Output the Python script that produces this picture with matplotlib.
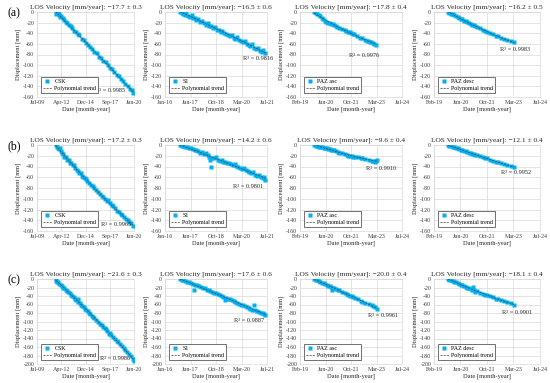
import matplotlib
matplotlib.use("Agg")
import matplotlib.pyplot as plt
import matplotlib.dates as mdates
import numpy as np
import pandas as pd

plt.rcParams['font.family'] = ['Liberation Serif', 'DejaVu Serif']
plt.rcParams['axes.unicode_minus'] = False

# ---------------- dados (ano decimal, deslocamento em mm) ----------------
# linha (a)
csk_a_x = [2011.62, 2011.70, 2011.85, 2011.95, 2012.05, 2012.10, 2012.25, 2012.40, 2012.55, 2012.75, 2012.95,
           2013.10, 2013.30, 2013.50, 2013.70, 2013.90, 2014.10, 2014.30, 2014.55, 2014.80, 2015.00, 2015.25,
           2015.50, 2015.75, 2016.00, 2016.25, 2016.50, 2016.75, 2017.00, 2017.25, 2017.50, 2017.75, 2018.00,
           2018.25, 2018.50, 2018.75, 2019.00, 2019.25, 2019.50, 2019.75, 2020.00, 2020.20, 2020.40]
csk_a_y = [0, -3, -2, -6, -4, -9, -8, -12, -15, -18, -20, -25, -27, -30, -36, -38, -42, -44, -50, -52, -58, -62,
           -66, -70, -75, -78, -84, -87, -92, -95, -100, -105, -108, -112, -118, -120, -126, -129, -136, -139,
           -144, -147, -152]
s1_a_x = [2016.85, 2016.95, 2017.05, 2017.15, 2017.20, 2017.30, 2017.40, 2017.50, 2017.55, 2017.65, 2017.75,
          2017.85, 2017.95, 2018.05, 2018.15, 2018.25, 2018.35, 2018.45, 2018.55, 2018.65, 2018.75, 2018.85,
          2018.95, 2019.05, 2019.15, 2019.25, 2019.35, 2019.45, 2019.55, 2019.65, 2019.75, 2019.85, 2019.95,
          2020.05, 2020.15, 2020.25, 2020.35, 2020.45, 2020.55, 2020.65, 2020.75, 2020.85, 2020.95, 2021.05,
          2021.15, 2021.25, 2021.35, 2021.45]
s1_a_y = [0, -2, -3, -6, -1, -7, -9, -5, -11, -12, -15, -13, -18, -17, -21, -24, -20, -26, -27, -31, -28, -33,
          -34, -37, -35, -40, -41, -43, -45, -44, -48, -50, -47, -53, -55, -57, -54, -60, -62, -64, -61, -67,
          -70, -68, -73, -75, -72, -78]
pazasc_a_x = [2019.85, 2019.93, 2020.00, 2020.08, 2020.17, 2020.25, 2020.33, 2020.42, 2020.50, 2020.58, 2020.67,
              2020.75, 2020.83, 2020.92, 2021.00, 2021.08, 2021.17, 2021.33, 2021.50, 2021.58, 2021.67, 2021.75,
              2021.83, 2021.92, 2022.00, 2022.17, 2022.33, 2022.42, 2022.58, 2022.67, 2022.75, 2022.83, 2022.92,
              2023.00, 2023.08, 2023.17]
pazasc_a_y = [0, -2, -4, -6, -8, -11, -14, -17, -19, -20, -21, -22, -23, -25, -26, -28, -30, -32, -34, -36, -37,
              -38, -39, -41, -42, -45, -48, -49, -52, -54, -55, -56, -57, -58, -60, -63]
pazdesc_a_x = [2019.80, 2019.88, 2019.97, 2020.05, 2020.13, 2020.22, 2020.30, 2020.38, 2020.47, 2020.55, 2020.63,
               2020.72, 2020.80, 2020.88, 2020.97, 2021.05, 2021.13, 2021.22, 2021.30, 2021.47, 2021.63, 2021.72,
               2021.80, 2021.97, 2022.13, 2022.30, 2022.38, 2022.55, 2022.72, 2022.88, 2023.05, 2023.22]
pazdesc_a_y = [0, -1, -3, -4, -6, -8, -9, -11, -13, -14, -16, -17, -19, -21, -22, -24, -25, -27, -29, -31, -34,
               -35, -37, -39, -42, -45, -46, -49, -51, -53, -55, -57]

# linha (b)
csk_b_x = [2011.62, 2011.72, 2011.85, 2011.98, 2012.10, 2012.20, 2012.35, 2012.50, 2012.62, 2012.80, 2012.95,
           2013.10, 2013.25, 2013.40, 2013.55, 2013.70, 2013.85, 2014.00, 2014.15, 2014.30, 2014.45, 2014.60,
           2014.75, 2014.90, 2015.05, 2015.20, 2015.40, 2015.60, 2015.80, 2016.00, 2016.20, 2016.40, 2016.60,
           2016.80, 2017.00, 2017.20, 2017.40, 2017.55, 2017.75, 2017.95, 2018.15, 2018.35, 2018.55, 2018.75,
           2018.95, 2019.15, 2019.35, 2019.55, 2019.75, 2019.95, 2020.15, 2020.35]
csk_b_y = [0, -3, -5, -8, -6, -12, -14, -17, -22, -23, -27, -28, -33, -34, -38, -37, -43, -46, -48, -53, -52,
           -58, -60, -62, -64, -67, -70, -74, -77, -80, -84, -87, -92, -94, -97, -100, -104, -103, -108, -112,
           -114, -118, -122, -124, -128, -131, -134, -138, -140, -144, -146, -150]
s1_b_x = [2016.85, 2016.95, 2017.05, 2017.15, 2017.25, 2017.35, 2017.45, 2017.55, 2017.65, 2017.75, 2017.85,
          2017.95, 2018.05, 2018.15, 2018.25, 2018.35, 2018.45, 2018.50, 2018.55, 2018.60, 2018.70, 2018.80,
          2018.90, 2019.00, 2019.10, 2019.20, 2019.30, 2019.40, 2019.50, 2019.60, 2019.70, 2019.80, 2019.90,
          2020.00, 2020.10, 2020.20, 2020.30, 2020.40, 2020.50, 2020.60, 2020.70, 2020.80, 2020.90, 2021.00,
          2021.10, 2021.20, 2021.30, 2021.40, 2021.45]
s1_b_y = [0, -2, -1, -4, -3, -6, -5, -8, -10, -9, -12, -14, -13, -16, -15, -19, -22, -27, -40, -24, -25, -23,
          -28, -29, -27, -31, -32, -34, -33, -36, -37, -35, -39, -41, -42, -44, -43, -46, -48, -50, -52, -51,
          -55, -57, -56, -60, -62, -60, -65]
pazasc_b_x = [2019.85, 2019.93, 2020.02, 2020.10, 2020.18, 2020.27, 2020.35, 2020.43, 2020.52, 2020.60, 2020.68,
              2020.77, 2020.85, 2020.93, 2021.02, 2021.10, 2021.18, 2021.35, 2021.52, 2021.60, 2021.68, 2021.77,
              2021.85, 2021.93, 2022.02, 2022.18, 2022.35, 2022.43, 2022.60, 2022.77, 2022.93, 2023.02, 2023.10,
              2023.18, 2023.22]
pazasc_b_y = [0, -1, -2, -3, -3, -4, -5, -6, -6, -7, -8, -9, -9, -10, -12, -13, -14, -15, -17, -19, -20, -20,
              -21, -22, -22, -23, -24, -25, -26, -27, -29, -30, -31, -30, -27]
pazdesc_b_x = [2019.80, 2019.88, 2019.97, 2020.05, 2020.13, 2020.22, 2020.30, 2020.38, 2020.47, 2020.55, 2020.63,
               2020.72, 2020.80, 2020.88, 2020.97, 2021.05, 2021.13, 2021.22, 2021.30, 2021.47, 2021.63, 2021.72,
               2021.80, 2021.97, 2022.13, 2022.30, 2022.38, 2022.55, 2022.72, 2022.88, 2023.05, 2023.22]
pazdesc_b_y = [0, -1, -2, -3, -4, -5, -6, -8, -9, -10, -11, -12, -13, -14, -15, -16, -17, -18, -19, -21, -23,
               -24, -25, -27, -29, -32, -31, -34, -36, -37, -39, -41]

# linha (c)
csk_c_x = [2011.62, 2011.70, 2011.80, 2011.92, 2012.05, 2012.18, 2012.30, 2012.45, 2012.60, 2012.75, 2012.90,
           2013.05, 2013.20, 2013.35, 2013.50, 2013.65, 2013.80, 2013.95, 2014.10, 2014.20, 2014.35, 2014.50,
           2014.65, 2014.80, 2014.95, 2015.10, 2015.25, 2015.40, 2015.55, 2015.70, 2015.85, 2016.00, 2016.20,
           2016.40, 2016.60, 2016.80, 2017.00, 2017.15, 2017.30, 2017.45, 2017.60, 2017.75, 2017.90, 2018.10,
           2018.30, 2018.50, 2018.70, 2018.90, 2019.10, 2019.30, 2019.50, 2019.70, 2019.90, 2020.10, 2020.30,
           2020.45]
csk_c_y = [0, -4, -6, -8, -12, -14, -17, -20, -22, -25, -28, -31, -34, -37, -40, -42, -46, -50, -47, -54, -57,
           -60, -63, -66, -70, -73, -76, -80, -82, -86, -89, -92, -96, -100, -105, -108, -112, -116, -118, -122,
           -130, -128, -132, -136, -141, -145, -149, -154, -158, -162, -167, -171, -176, -182, -188, -193]
s1_c_x = [2016.85, 2016.95, 2017.05, 2017.15, 2017.25, 2017.35, 2017.45, 2017.55, 2017.62, 2017.70, 2017.80,
          2017.90, 2018.00, 2018.10, 2018.20, 2018.30, 2018.40, 2018.50, 2018.60, 2018.70, 2018.80, 2018.90,
          2019.00, 2019.10, 2019.20, 2019.30, 2019.35, 2019.45, 2019.55, 2019.65, 2019.75, 2019.85, 2019.95,
          2020.05, 2020.15, 2020.25, 2020.35, 2020.45, 2020.55, 2020.65, 2020.75, 2020.85, 2020.90, 2021.00,
          2021.10, 2021.20, 2021.30, 2021.40, 2021.45]
s1_c_y = [0, -2, -3, -4, -6, -8, -9, -12, -25, -13, -15, -17, -19, -20, -22, -25, -26, -28, -30, -33, -34, -36,
          -38, -40, -42, -50, -44, -46, -48, -50, -52, -53, -56, -58, -60, -62, -63, -66, -68, -70, -72, -62,
          -74, -75, -78, -79, -81, -83, -85]
pazasc_c_x = [2019.85, 2019.93, 2020.02, 2020.10, 2020.18, 2020.27, 2020.35, 2020.43, 2020.52, 2020.60, 2020.68,
              2020.77, 2020.80, 2020.85, 2020.93, 2021.02, 2021.10, 2021.18, 2021.35, 2021.52, 2021.60, 2021.68,
              2021.77, 2021.85, 2021.93, 2022.02, 2022.18, 2022.35, 2022.43, 2022.60, 2022.77, 2022.93, 2023.02,
              2023.10, 2023.20]
pazasc_c_y = [0, -2, -3, -5, -7, -9, -10, -12, -14, -16, -17, -19, -25, -20, -22, -24, -25, -27, -30, -33, -35,
              -37, -39, -40, -42, -44, -47, -51, -53, -56, -59, -62, -64, -67, -70]
pazdesc_c_x = [2019.80, 2019.88, 2019.97, 2020.05, 2020.13, 2020.22, 2020.30, 2020.38, 2020.47, 2020.55, 2020.63,
               2020.72, 2020.80, 2020.88, 2020.97, 2021.05, 2021.10, 2021.13, 2021.22, 2021.30, 2021.47, 2021.63,
               2021.72, 2021.80, 2021.97, 2022.13, 2022.30, 2022.38, 2022.55, 2022.72, 2022.88, 2023.05, 2023.22]
pazdesc_c_y = [0, -2, -3, -5, -6, -8, -10, -11, -13, -15, -16, -18, -20, -21, -23, -25, -18, -26, -30, -28, -32,
               -36, -37, -38, -40, -43, -46, -47, -50, -52, -55, -57, -60]

# textos
rotulos_linhas = ['(a)', '(b)', '(c)']
sensores = ['CSK', 'S1', 'PAZ asc', 'PAZ desc']
velocidades = [['−17.7 ± 0.3', '−16.5 ± 0.6', '−17.8 ± 0.4', '−16.2 ± 0.5'],
               ['−17.2 ± 0.3', '−14.2 ± 0.6', '−9.6 ± 0.4', '−12.1 ± 0.4'],
               ['−21.6 ± 0.3', '−17.6 ± 0.6', '−20.0 ± 0.4', '−18.1 ± 0.4']]
r2 = [['0.9985', '0.9816', '0.9976', '0.9983'],
      ['0.9965', '0.9801', '0.9910', '0.9952'],
      ['0.9986', '0.9887', '0.9961', '0.9901']]
y_minimos = [-160, -160, -200]

dados = [[(csk_a_x, csk_a_y), (s1_a_x, s1_a_y), (pazasc_a_x, pazasc_a_y), (pazdesc_a_x, pazdesc_a_y)],
         [(csk_b_x, csk_b_y), (s1_b_x, s1_b_y), (pazasc_b_x, pazasc_b_y), (pazdesc_b_x, pazdesc_b_y)],
         [(csk_c_x, csk_c_y), (s1_c_x, s1_c_y), (pazasc_c_x, pazasc_c_y), (pazdesc_c_x, pazdesc_c_y)]]

# eixo x estilo Excel: início + passo em dias
inicio_eixo = ['2009-07-08', '2016-01-25', '2019-02-01', '2019-02-01']
passo_dias = [1000, 500, 500, 500]

# ---------------- layout (pixels) ----------------
larg_fig, alt_fig = 550, 383
esquerdas = [37, 165, 300, 434]
larguras = [97, 102, 102, 106]
topos = [12, 145, 279]
alturas = [85, 86, 85]
pos_r2 = [[(0.60, 0.08), (0.76, 0.45), (0.48, 0.49), (0.62, 0.56)],
          [(0.66, 0.08), (0.67, 0.52), (0.65, 0.73), (0.63, 0.68)],
          [(0.65, 0.06), (0.68, 0.51), (0.67, 0.57), (0.64, 0.61)]]

cor_pontos = '#00b0f0'
cor_grade = '#d9d9d9'


def ano_para_data(anos):
    anos = np.asarray(anos, dtype=float)
    inteiros = np.floor(anos).astype(int)
    datas = []
    for a, i in zip(anos, inteiros):
        base = pd.Timestamp(year=int(i), month=1, day=1)
        dias_ano = 366 if pd.Timestamp(year=int(i), month=12, day=31).dayofyear == 366 else 365
        datas.append(base + pd.Timedelta(days=(a - i) * dias_ano))
    return pd.to_datetime(datas)


fig = plt.figure(figsize=(larg_fig / 100, alt_fig / 100), dpi=100)

for lin in range(3):
    for col in range(4):
        x_anos, y = dados[lin][col]
        ax = fig.add_axes([esquerdas[col] / larg_fig,
                           1 - (topos[lin] + alturas[lin]) / alt_fig,
                           larguras[col] / larg_fig,
                           alturas[lin] / alt_fig])
        datas = ano_para_data(x_anos)
        ax.plot(datas, y, 's', ms=2.2, color=cor_pontos, mec='none', label=sensores[col], zorder=3)

        # tendência polinomial (2º grau)
        t = np.array(x_anos)
        coef = np.polyfit(t, y, 2)
        t_fino = np.linspace(t.min(), t.max(), 100)
        ax.plot(ano_para_data(t_fino), np.polyval(coef, t_fino), color='#404040', lw=0.5,
                ls=(0, (3, 1.5)), label='Polynomial trend', zorder=4)

        inicio = pd.Timestamp(inicio_eixo[col])
        ticks = [inicio + pd.Timedelta(days=k * passo_dias[col]) for k in range(5)]
        ax.set_xlim(ticks[0], ticks[-1])
        ax.set_xticks(ticks)
        ax.xaxis.set_major_formatter(mdates.DateFormatter('%b-%y'))

        ax.set_ylim(y_minimos[lin], 0)
        yt = np.arange(y_minimos[lin], 1, 20)
        ax.set_yticks(yt)
        ax.set_yticklabels([str(int(v)) for v in yt])

        ax.grid(True, color=cor_grade, lw=0.5)
        ax.set_axisbelow(True)
        for s in ax.spines.values():
            s.set_color(cor_grade)
            s.set_linewidth(0.5)
        ax.tick_params(length=0, labelsize=4.3, colors='#404040', pad=2)

        ax.set_xlabel('Date [month-year]', fontsize=4.6, labelpad=1.5, color='#262626')
        ax.set_ylabel('Displacement [mm]', fontsize=4.6, labelpad=1.5, color='#262626')
        ax.set_title('LOS Velocity [mm/year]: ' + velocidades[lin][col], fontsize=5.3, pad=2.5,
                     color='#262626')

        ax.text(pos_r2[lin][col][0], pos_r2[lin][col][1], 'R² = ' + r2[lin][col], transform=ax.transAxes,
                fontsize=4.5, va='center', ha='left', color='#262626')

        leg = ax.legend(loc='lower left', fontsize=4.3, frameon=True, fancybox=False, framealpha=1,
                        edgecolor='#595959', borderpad=0.35, handlelength=1.6, handletextpad=0.35,
                        labelspacing=0.3, borderaxespad=0.6, markerscale=1.1)
        leg.get_frame().set_linewidth(0.6)

    fig.text(8 / larg_fig, 1 - (topos[lin] + 1) / alt_fig, rotulos_linhas[lin], fontsize=8.5,
             va='center', ha='left')

fig.savefig('out.png', dpi=100)
